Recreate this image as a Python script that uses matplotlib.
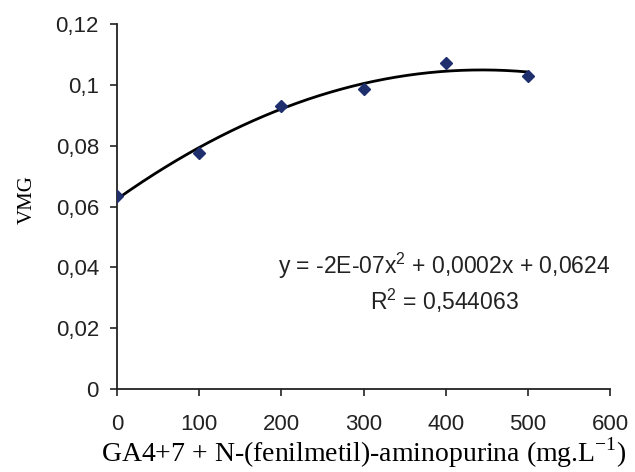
import numpy as np
import matplotlib
matplotlib.use("Agg")
import matplotlib.pyplot as plt

# Data
x_vals = [0, 100, 200, 300, 400, 500]
y_vals = [0.0633, 0.0777, 0.0931, 0.0987, 0.1072, 0.1030]

x_ticks = [0, 100, 200, 300, 400, 500, 600]
x_tick_labels = ["0", "100", "200", "300", "400", "500", "600"]
y_ticks = [0, 0.02, 0.04, 0.06, 0.08, 0.10, 0.12]
y_tick_labels = ["0", "0,02", "0,04", "0,06", "0,08", "0,1", "0,12"]

eq_text = r"y = -2E-07x$^{\mathsf{2}}$ + 0,0002x + 0,0624"
r2_text = r"R$^{\mathsf{2}}$ = 0,544063"
x_label = r"GA4+7 + N-(fenilmetil)-aminopurina (mg.L$^{\mathrm{-1}}$)"
y_label = "VMG"

sans = "Liberation Sans"
serif = "Liberation Serif"
plt.rcParams["mathtext.fontset"] = "custom"
plt.rcParams["mathtext.rm"] = serif
plt.rcParams["mathtext.sf"] = sans

fig = plt.figure(figsize=(6.35, 4.72), dpi=100)
ax = fig.add_axes([117/635, 1 - 389/472, (610-117)/635, (389-24)/472])

# Trendline (2nd-order polynomial fit of the data)
coef = np.polyfit(x_vals, y_vals, 2)
xf = np.linspace(min(x_vals), max(x_vals), 300)
ax.plot(xf, np.polyval(coef, xf), color="black", lw=2.0, zorder=2)

ax.plot(x_vals, y_vals, linestyle="none", marker="D", ms=6,
        color="#1f2f6e", mec="#1f2f6e", zorder=3)

ax.set_xlim(0, 600)
ax.set_ylim(0, 0.12)
ax.set_xticks(x_ticks)
ax.set_xticklabels(x_tick_labels, family=sans, fontsize=16, color="#222222")
ax.set_yticks(y_ticks)
ax.set_yticklabels(y_tick_labels, family=sans, fontsize=16, color="#222222")

for s in ["top", "right"]:
    ax.spines[s].set_visible(False)
for s in ["left", "bottom"]:
    ax.spines[s].set_linewidth(1.3)
    ax.spines[s].set_color("#222222")

ax.tick_params(axis="x", direction="out", length=5, width=1.2, pad=13, colors="#222222")
ax.tick_params(axis="y", direction="out", length=5, width=1.2, pad=8, colors="#222222")

ax.set_xlabel(x_label, family=serif, fontsize=20, labelpad=0)
ax.set_ylabel(y_label, family=serif, fontsize=15)
ax.yaxis.set_label_coords(-0.162, 0.52)

ax.text(398, 0.0405, eq_text, family=sans, fontsize=16.5, ha="center", va="center",
        color="#222222")
ax.text(398, 0.029, r2_text, family=sans, fontsize=16.5, ha="center", va="center",
        color="#222222")

fig.savefig("out.png", dpi=100)
